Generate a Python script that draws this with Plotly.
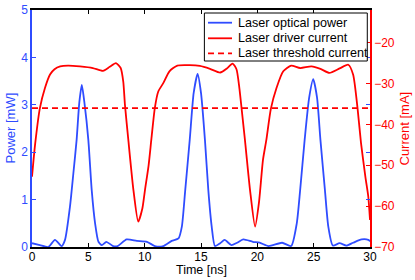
import plotly.graph_objects as go

# ---- data ----
time_power = [0, 0.7, 1.45, 2.04, 2.63, 2.93, 3.37, 3.67, 3.96, 4.2, 4.42, 4.65, 5.0, 5.3, 5.6, 5.9,
              6.2, 6.6, 7.2, 7.6, 8.4, 9.3, 10.2, 10.9, 11.65, 12.4, 13.0, 13.3, 13.6, 14.0, 14.35,
              14.7, 15.0, 15.35, 15.65, 15.95, 16.24, 16.7, 17.1, 17.7, 18.2, 18.75, 19.6, 20.2,
              21.0, 22.2, 23.0, 23.5, 23.8, 24.2, 24.6, 24.96, 25.3, 25.6, 26.0, 26.3, 26.7, 27.3,
              27.9, 28.5, 29.25, 29.85, 30]
optical_power = [0.08, 0.04, 0.0, 0.15, 0.02, 0.15, 0.85, 1.55, 2.26, 3.05, 3.42, 3.05, 2.26, 1.2,
                 0.5, 0.11, 0.04, 0.11, 0.02, 0.02, 0.16, 0.13, 0.11, 0.02, 0.02, 0.13, 0.18, 0.43,
                 1.2, 2.26, 3.25, 3.65, 3.25, 2.26, 1.2, 0.43, 0.02, 0.08, 0.15, 0.04, 0.09, 0.16,
                 0.11, 0.09, 0.02, 0.09, 0.02, 0.5, 1.2, 2.26, 3.15, 3.54, 3.15, 2.26, 1.2, 0.43,
                 0.03, 0.08, 0.03, 0.09, 0.16, 0.15, 0.12]

time_current = [0, 0.27, 0.7, 1.15, 1.6, 2.0, 2.5, 3.2, 4.26, 5.4, 6.3, 6.9, 7.45, 7.87, 8.1, 8.25,
                8.55, 9.0, 9.43, 9.8, 10.03, 10.35, 10.6, 10.9, 11.2, 11.65, 12.2, 12.9, 14.0, 14.9,
                15.8, 16.7, 17.3, 17.8, 18.15, 18.4, 18.6, 18.9, 19.35, 19.8, 20.15, 20.5, 20.8,
                21.2, 21.7, 22.3, 23.0, 23.8, 24.8, 25.6, 26.4, 27.3, 28.07, 28.5, 28.9, 29.2,
                29.6, 29.85, 30]
driver_current = [-52.8, -45, -36, -31.1, -27.8, -26.5, -25.8, -25.6, -25.8, -26.2, -26.9, -25.9,
                  -25.0, -26.2, -29.5, -35.2, -43.8, -56, -63.8, -60.5, -56, -50, -43.5, -36, -32,
                  -29.9, -27, -25.6, -25.5, -25.7, -26.4, -27.3, -26.3, -25.1, -26.5, -31, -36,
                  -43.8, -56, -65, -59, -48.7, -43.8, -36.2, -31.1, -27, -25.6, -26.2, -25.8,
                  -26.4, -27.4, -26.3, -25.4, -27.8, -36.2, -44.5, -53, -57.7, -63.4]

threshold_time = [0, 30]
threshold_current = [-36, -36]

x_ticks = [0, 5, 10, 15, 20, 25, 30]
power_ticks = [0, 1, 2, 3, 4, 5]
current_ticks = [-70, -60, -50, -40, -30, -20]

series_names = ["Laser optical power", "Laser driver current", "Laser threshold current"]

BLUE = "#2f4cff"
RED = "#ff0000"
FONT = "Liberation Sans, Arial, sans-serif"

fig = go.Figure()
fig.add_trace(go.Scatter(x=time_power, y=optical_power, mode="lines", name=series_names[0],
                         line=dict(color=BLUE, width=1.8, shape="spline", smoothing=0.6)))
fig.add_trace(go.Scatter(x=time_current, y=driver_current, mode="lines", name=series_names[1],
                         yaxis="y2", line=dict(color=RED, width=1.8, shape="spline", smoothing=0.6)))
fig.add_trace(go.Scatter(x=threshold_time, y=threshold_current, mode="lines",
                         name=series_names[2], yaxis="y2",
                         line=dict(color=RED, width=1.8, dash="6px,4px")))

# legend box drawn as shapes + text (compact, MATLAB-like)
legend_rows_y = [0.9464, 0.8806, 0.8173]
legend_styles = [dict(color=BLUE, width=1.8), dict(color=RED, width=1.8),
                 dict(color=RED, width=1.8, dash="6px,4px")]
shapes = [dict(type="rect", xref="paper", yref="paper", x0=0.510, x1=0.992, y0=0.7848, y1=0.9873,
               line=dict(color="black", width=1), fillcolor="white", layer="above")]
annotations = []
for name, yy, st in zip(series_names, legend_rows_y, legend_styles):
    shapes.append(dict(type="line", xref="paper", yref="paper", x0=0.5207, x1=0.5917, y0=yy, y1=yy,
                       line=st, layer="above"))
    annotations.append(dict(text=name, xref="paper", yref="paper", x=0.6036, y=yy,
                            xanchor="left", yanchor="middle", showarrow=False,
                            font=dict(family=FONT, size=12.6, color="black")))

annotations += [
    dict(text="Time [ns]", xref="paper", yref="paper", x=0.5, y=0, yshift=-23,
         xanchor="center", yanchor="middle", showarrow=False,
         font=dict(family=FONT, size=12.5, color="black")),
    dict(text="Power [mW]", xref="paper", yref="paper", x=0, y=0.5, xshift=-22,
         xanchor="center", yanchor="middle", textangle=-90, showarrow=False,
         font=dict(family=FONT, size=13, color=BLUE)),
    dict(text="Current [mA]", xref="paper", yref="paper", x=1, y=0.5, xshift=34,
         xanchor="center", yanchor="middle", textangle=-90, showarrow=False,
         font=dict(family=FONT, size=13, color=RED)),
]

fig.update_layout(
    width=415, height=280,
    margin=dict(l=32, r=45, t=10, b=33, autoexpand=False),
    paper_bgcolor="white", plot_bgcolor="white",
    font=dict(family=FONT, size=12, color="black"),
    showlegend=False,
    xaxis=dict(range=[0, 30], tickvals=x_ticks, ticks="inside", ticklen=4,
               tickcolor="black", linecolor="black", linewidth=2, mirror="ticks",
               showgrid=False, zeroline=False, automargin=False, ticklabelstandoff=-2,
               tickfont=dict(family=FONT, size=12, color="black")),
    yaxis=dict(range=[0, 5], tickvals=power_ticks, ticks="inside", ticklen=4,
               tickcolor=BLUE, linecolor=BLUE, linewidth=1.5, mirror="ticks",
               showgrid=False, zeroline=False, automargin=False,
               tickfont=dict(family=FONT, size=12, color=BLUE)),
    yaxis2=dict(range=[-70, -12], tickvals=current_ticks, ticks="inside", ticklen=4,
                overlaying="y", side="right", anchor="x",
                tickcolor=RED, linecolor=RED, linewidth=1.5,
                showgrid=False, zeroline=False, automargin=False,
                tickfont=dict(family=FONT, size=12, color=RED)),
    shapes=shapes,
    annotations=annotations,
)

fig.write_html("out.html", config={"displayModeBar": False},
               post_script="document.body.style.margin='0';document.body.style.padding='0';")
